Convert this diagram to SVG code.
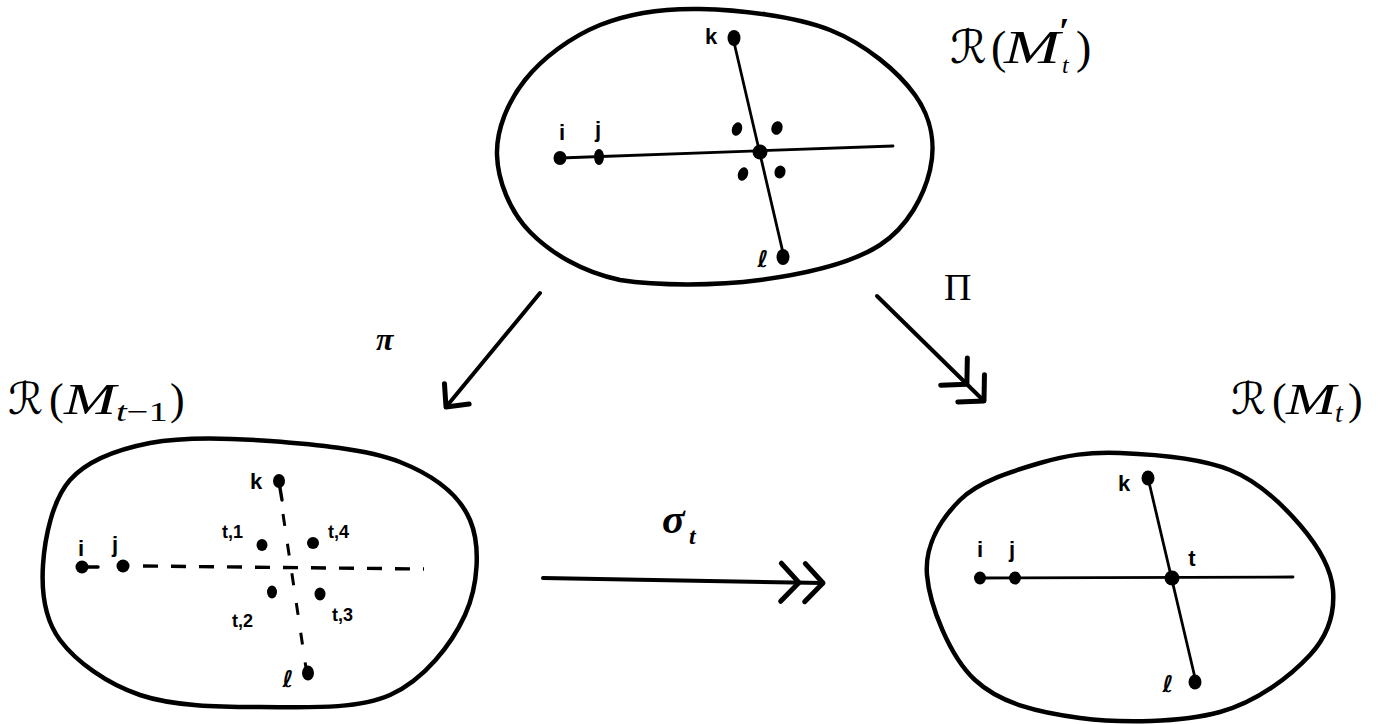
<svg xmlns="http://www.w3.org/2000/svg" width="1380" height="724" viewBox="0 0 1380 724">
<style>
.blob{fill:none;stroke:#000;stroke-width:4.5;stroke-linejoin:round}
.ln{fill:none;stroke:#000;stroke-width:2.8;stroke-linecap:round}
.dash{fill:none;stroke:#000;stroke-width:3.4;stroke-dasharray:15 13}
.vdash{fill:none;stroke:#000;stroke-width:3;stroke-dasharray:12 18}
.dot{fill:#000}
.lbl{font-family:"Liberation Sans","DejaVu Sans",sans-serif;font-weight:bold;font-size:22px;fill:#000}
.sl{font-family:"Liberation Sans","DejaVu Sans",sans-serif;font-weight:bold;font-size:18px;fill:#000}
.ell{font-family:"DejaVu Sans","Liberation Sans",sans-serif;font-weight:bold;font-size:23px;fill:#000}
.m{font-family:"Liberation Serif","DejaVu Serif",serif;fill:#000}
.it{font-style:italic}
.scr{font-family:"DejaVu Sans","DejaVu Serif",serif;fill:#000}
.arr{fill:none;stroke:#000;stroke-width:4;stroke-linecap:round}
</style>
<defs>
<marker id="one" markerUnits="userSpaceOnUse" orient="auto" overflow="visible" markerWidth="1" markerHeight="1" refX="0" refY="0">
<path d="M-17,-16 L0,0 L-17,16" fill="none" stroke="#000" stroke-width="5" stroke-linecap="round" stroke-linejoin="round"/>
</marker>
<marker id="two" markerUnits="userSpaceOnUse" orient="auto" overflow="visible" markerWidth="1" markerHeight="1" refX="0" refY="0">
<path d="M-42,-19 L-24,0 L-42,19 M-18,-19 L0,0 L-18,19" fill="none" stroke="#000" stroke-width="5" stroke-linecap="round" stroke-linejoin="round"/>
</marker>
</defs>
<rect width="1380" height="724" fill="#fff"/>

<g id="top-node">
<path class="blob" d="M497,155 C496.2,129.7 507.8,101.7 525,80 C542.2,58.3 570.8,36.8 600,25 C629.2,13.2 661.7,8.2 700,9 C738.3,9.8 794.2,15.7 830,30 C865.8,44.3 898.3,71.7 915,95 C931.7,118.3 935.8,145 930,170 C924.2,195 908.3,226.7 880,245 C851.7,263.3 803.3,274.2 760,280 C716.7,285.8 658.3,286 620,280 C581.7,272 550.5,252.8 530,232 C509.5,211.2 497.8,180.3 497,155 Z"/>
<line class="ln" x1="560" y1="158" x2="893" y2="146"/>
<line class="ln" x1="733" y1="38" x2="784" y2="257"/>
<ellipse class="dot" cx="560" cy="158" rx="6.5" ry="7"/>
<ellipse class="dot" cx="599" cy="157" rx="5" ry="8"/>
<ellipse class="dot" cx="760" cy="152" rx="7.5" ry="7.5"/>
<ellipse class="dot" cx="734" cy="38" rx="6.5" ry="8"/>
<ellipse class="dot" cx="783" cy="257" rx="6.5" ry="8"/>
<ellipse class="dot" cx="737" cy="129" rx="5" ry="7" transform="rotate(20 737 129)"/>
<ellipse class="dot" cx="777" cy="128" rx="5.5" ry="7" transform="rotate(20 777 128)"/>
<ellipse class="dot" cx="743" cy="174" rx="5" ry="7" transform="rotate(20 743 174)"/>
<ellipse class="dot" cx="780" cy="172" rx="5.5" ry="6.5" transform="rotate(20 780 172)"/>
<text class="lbl" x="562" y="140" text-anchor="middle">i</text>
<text class="lbl" x="598" y="137" text-anchor="middle">j</text>
<text class="lbl" x="711" y="44" text-anchor="middle">k</text>
<text class="ell" x="763" y="267" text-anchor="middle">ℓ</text>
<text class="scr" x="950" y="63" font-size="46">ℛ</text>
<text class="m" x="991" y="63" font-size="46">(</text>
<text class="m it" x="1004" y="63" font-size="46" textLength="56" lengthAdjust="spacingAndGlyphs">M</text>
<text class="m" x="1059" y="44" font-size="38" font-weight="bold">′</text>
<text class="m it" x="1062" y="73" font-size="24">t</text>
<text class="m" x="1076" y="63" font-size="46">)</text>
</g>

<g id="left-node">
<path class="blob" d="M43,565 C44.7,538.3 52.2,500.3 70,480 C87.8,459.7 116.7,449.5 150,443 C183.3,436.5 228.3,437.8 270,441 C311.7,444.2 366.7,448.8 400,462 C433.3,475.2 459.2,494.5 470,520 C480.8,545.5 478.3,585.8 465,615 C451.7,644.2 424.2,679.7 390,695 C355.8,710.3 301.7,707 260,707 C218.3,707 173.3,706.2 140,695 C106.7,683.8 76.2,661.7 60,640 C43.8,618.3 41.3,591.7 43,565 Z"/>
<line class="ln" x1="82" y1="567" x2="98" y2="567" style="stroke-width:3.4"/>
<line class="dash" x1="143" y1="566" x2="424" y2="569"/>
<line class="ln" x1="279" y1="482" x2="282" y2="500" style="stroke-width:3.4"/>
<line class="vdash" x1="283" y1="514" x2="306" y2="668"/>
<ellipse class="dot" cx="82" cy="567" rx="6.5" ry="6.5"/>
<ellipse class="dot" cx="123" cy="566" rx="6.5" ry="6.5"/>
<ellipse class="dot" cx="279" cy="481" rx="6" ry="7"/>
<ellipse class="dot" cx="308" cy="673" rx="6" ry="7.5"/>
<ellipse class="dot" cx="262" cy="545" rx="5.5" ry="6"/>
<ellipse class="dot" cx="313" cy="543" rx="6" ry="6"/>
<ellipse class="dot" cx="272" cy="592" rx="5" ry="6.5"/>
<ellipse class="dot" cx="320" cy="594" rx="5.5" ry="6.5"/>
<text class="lbl" x="81" y="556" text-anchor="middle">i</text>
<text class="lbl" x="115" y="552" text-anchor="middle">j</text>
<text class="lbl" x="256" y="489" text-anchor="middle">k</text>
<text class="ell" x="288" y="687" text-anchor="middle">ℓ</text>
<text class="sl" x="222" y="538">t,1</text>
<text class="sl" x="328" y="538">t,4</text>
<text class="sl" x="232" y="627">t,2</text>
<text class="sl" x="332" y="621">t,3</text>
<text class="scr" x="8" y="414" font-size="44">ℛ</text>
<text class="m" x="49" y="414" font-size="44">(</text>
<text class="m it" x="64" y="414" font-size="44" textLength="52" lengthAdjust="spacingAndGlyphs">M</text>
<text class="m it" x="116" y="421" font-size="28" textLength="52" lengthAdjust="spacingAndGlyphs">t<tspan font-style="normal">−1</tspan></text>
<text class="m" x="170" y="414" font-size="44">)</text>
</g>

<g id="right-node">
<path class="blob" d="M927,575 C924.5,545 941.2,518.7 960,500 C978.8,481.3 1013.3,470.8 1040,463 C1066.7,455.2 1088.3,451.8 1120,453 C1151.7,454.2 1200,458 1230,470 C1260,482 1282.8,505 1300,525 C1317.2,545 1331.3,568.3 1333,590 C1334.7,611.7 1328.8,634.7 1310,655 C1291.2,675.3 1258.3,701.5 1220,712 C1181.7,722.5 1120.8,723.3 1080,718 C1039.2,712.7 1000.5,703.8 975,680 C949.5,656.2 929.5,605 927,575 Z"/>
<line class="ln" x1="980" y1="578" x2="1293" y2="577"/>
<line class="ln" x1="1148" y1="478" x2="1196" y2="682"/>
<ellipse class="dot" cx="980" cy="578" rx="6" ry="6.5"/>
<ellipse class="dot" cx="1015" cy="578" rx="6" ry="6.5"/>
<ellipse class="dot" cx="1172" cy="578" rx="7.5" ry="7.5"/>
<ellipse class="dot" cx="1148" cy="478" rx="6.5" ry="7.5"/>
<ellipse class="dot" cx="1195" cy="682" rx="6.5" ry="7.5"/>
<text class="lbl" x="980" y="557" text-anchor="middle">i</text>
<text class="lbl" x="1012" y="557" text-anchor="middle">j</text>
<text class="lbl" x="1124" y="491" text-anchor="middle">k</text>
<text class="lbl" x="1192" y="566" text-anchor="middle">t</text>
<text class="ell" x="1168" y="692" text-anchor="middle">ℓ</text>
<text class="scr" x="1231" y="414" font-size="44">ℛ</text>
<text class="m" x="1272" y="414" font-size="44">(</text>
<text class="m it" x="1286" y="414" font-size="44" textLength="50" lengthAdjust="spacingAndGlyphs">M</text>
<text class="m it" x="1335" y="422" font-size="28">t</text>
<text class="m" x="1348" y="414" font-size="44">)</text>
</g>

<g id="connectors">
<line class="arr" x1="540" y1="293" x2="446" y2="407" marker-end="url(#one)"/>
<line class="arr" x1="877" y1="296" x2="984" y2="401" marker-end="url(#two)"/>
<line class="arr" x1="543" y1="578" x2="823" y2="583" marker-end="url(#two)"/>
<text class="m it" x="376" y="350" font-size="32" font-weight="bold">π</text>
<text class="m" x="944" y="300" font-size="38">Π</text>
<text class="m it" x="662" y="533" font-size="42" font-weight="bold">σ</text>
<text class="m it" x="689" y="544" font-size="24" font-weight="bold">t</text>
</g>
</svg>
